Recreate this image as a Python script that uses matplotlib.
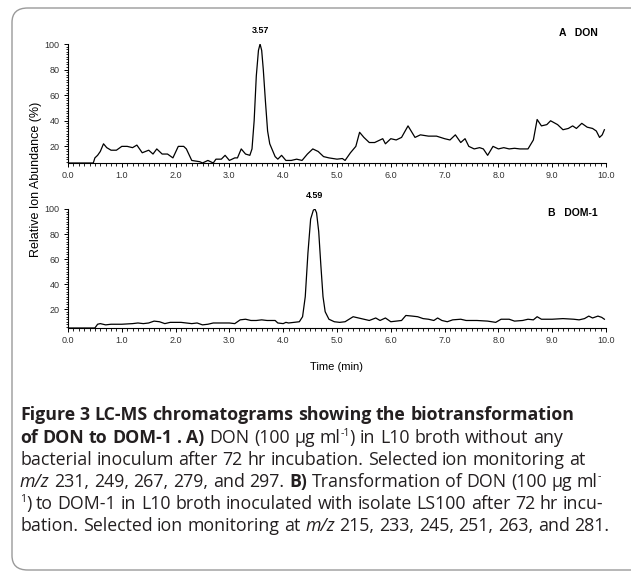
import matplotlib
matplotlib.use("Agg")
import matplotlib.pyplot as plt
from matplotlib.ticker import MultipleLocator, FormatStrFormatter
from matplotlib.patches import FancyBboxPatch

# panel A - DON (time in min, relative abundance in %)
don_t = [0.0, 0.47, 0.5, 0.55, 0.6, 0.66, 0.72, 0.8, 0.9, 1.0, 1.1, 1.2, 1.28, 1.38, 1.5,
         1.58, 1.65, 1.75, 1.85, 1.95, 2.05, 2.15, 2.2, 2.3, 2.45, 2.5, 2.6, 2.7, 2.75,
         2.85, 2.92, 3.0, 3.1, 3.15, 3.22, 3.3, 3.38, 3.42, 3.46, 3.5, 3.54, 3.57, 3.6,
         3.63, 3.67, 3.71, 3.75, 3.8, 3.85, 3.9, 3.97, 4.05, 4.15, 4.25, 4.35, 4.45, 4.55,
         4.65, 4.75, 4.85, 5.0, 5.1, 5.15, 5.25, 5.35, 5.42, 5.5, 5.6, 5.7, 5.8, 5.85,
         5.9, 6.0, 6.1, 6.2, 6.32, 6.45, 6.55, 6.7, 6.85, 7.0, 7.1, 7.2, 7.3, 7.38, 7.45,
         7.55, 7.65, 7.72, 7.8, 7.9, 8.0, 8.1, 8.2, 8.3, 8.4, 8.55, 8.65, 8.72, 8.8, 8.9,
         8.97, 9.1, 9.2, 9.3, 9.38, 9.45, 9.55, 9.65, 9.75, 9.82, 9.88, 9.93, 9.97]
don_y = [7, 7, 11, 13, 16, 22, 19, 17, 17, 20, 20, 19, 21, 15, 17,
         14, 18, 14, 14, 11, 20, 20, 18, 9, 8, 7, 9, 7, 10,
         10, 13, 9, 11, 11, 18, 14, 13, 18, 40, 75, 95, 100, 95,
         80, 55, 32, 22, 17, 12, 10, 13, 9, 9, 10, 9, 14, 18,
         16, 12, 11, 10, 10.5, 9, 15, 20, 31, 27, 23, 23, 25, 26,
         22, 26, 25, 27, 36, 27, 29, 28, 28, 26, 25, 29, 23, 26, 20,
         18, 19, 18, 13, 20, 18, 19, 18, 18.5, 18, 18, 25, 41, 36, 37,
         40, 37, 33, 34, 36, 34, 38, 35, 34, 32, 27, 29, 33]

# panel B - DOM-1
dom_t = [0.0, 0.5, 0.55, 0.6, 0.7, 0.8, 1.0, 1.2, 1.3, 1.4, 1.5, 1.6, 1.7, 1.8, 1.9,
         2.0, 2.1, 2.2, 2.3, 2.4, 2.5, 2.6, 2.7, 2.8, 3.0, 3.1, 3.2, 3.3, 3.4, 3.5,
         3.6, 3.7, 3.85, 3.9, 4.0, 4.05, 4.1, 4.2, 4.3, 4.36, 4.41, 4.46, 4.51, 4.56,
         4.59, 4.62, 4.66, 4.7, 4.74, 4.78, 4.85, 4.95, 5.05, 5.15, 5.3, 5.4, 5.5, 5.6,
         5.72, 5.8, 5.9, 6.0, 6.1, 6.2, 6.28, 6.4, 6.5, 6.6, 6.7, 6.8, 6.87, 6.95, 7.05,
         7.15, 7.3, 7.4, 7.6, 7.8, 7.95, 8.05, 8.2, 8.3, 8.45, 8.55, 8.65, 8.72, 8.8,
         9.0, 9.2, 9.4, 9.5, 9.6, 9.68, 9.75, 9.85, 9.92, 9.97]
dom_y = [5, 5, 8, 8.5, 7.5, 8, 8, 8.5, 9, 8.5, 9, 10.5, 10, 8.5, 9.5,
         9.5, 9.5, 9, 8.5, 9, 7.5, 8, 9, 9, 9, 8.5, 11.5, 12, 11, 11,
         11.5, 11, 11, 9, 8.5, 9.5, 9, 9.5, 10, 14, 30, 65, 92, 99,
         100, 97, 82, 55, 30, 18, 12, 10, 9.5, 10, 14, 13, 12, 11,
         13, 11, 13, 10, 10.5, 11, 15, 14.5, 14, 12.5, 12, 11, 13, 11, 10,
         11.5, 12, 11, 11, 10.5, 9.5, 12, 12, 10.5, 11, 12, 11.5, 14, 12,
         12, 12.5, 12, 11.5, 12.5, 14.5, 13, 14.5, 13.5, 12]

W, H = 631, 577
fig = plt.figure(figsize=(W / 100, H / 100), dpi=100)

# rounded frame round the figure
frame = FancyBboxPatch((12 / W, 7 / H), 640 / W, 562 / H,
                       boxstyle="round,pad=0,rounding_size=0.025",
                       transform=fig.transFigure, fc="none", ec="#9a9a9a", lw=1.0)
fig.patches.append(frame)

chart_font = "Liberation Sans"
x0, x1 = 68, 606


def panel(top, bot, t, y, ymin, peak, peak_t, label):
    ax = fig.add_axes([x0 / W, 1 - bot / H, (x1 - x0) / W, (bot - top) / H])
    ax.plot(t, y, color="black", lw=0.9)
    ax.set_xlim(0, 10)
    ax.set_ylim(ymin, 100)
    for s in ["top", "right"]:
        ax.spines[s].set_visible(False)
    for s in ["left", "bottom"]:
        ax.spines[s].set_linewidth(0.8)
    ax.xaxis.set_major_locator(MultipleLocator(1))
    ax.xaxis.set_minor_locator(MultipleLocator(0.1))
    ax.xaxis.set_major_formatter(FormatStrFormatter("%.1f"))
    ax.yaxis.set_minor_locator(MultipleLocator(2))
    ax.set_yticks([20, 40, 60, 80, 100])
    ax.tick_params(which="major", length=3, width=0.7, labelsize=6.5,
                   labelcolor="#333333", pad=3)
    ax.tick_params(which="minor", length=1.8, width=0.6)
    for lab in ax.get_xticklabels() + ax.get_yticklabels():
        lab.set_fontfamily(chart_font)
    ax.annotate(peak, (peak_t, 100), xytext=(0, 10), textcoords="offset points",
                ha="center", va="center", fontsize=6.5, fontweight="bold",
                family=chart_font)
    ax.text(0.985, label[1], label[0], transform=ax.transAxes, ha="right", va="center",
            fontsize=7.5, fontweight="bold", family=chart_font)
    return ax


axA = panel(44, 163, don_t, don_y, 7, "3.57", 3.57, ("A   DON", 1.09))
axB = panel(209, 328, dom_t, dom_y, 5, "4.59", 4.59, ("B   DOM-1", 0.97))

fig.text(36 / W, 1 - 179 / H, "Relative Ion Abundance (%)", rotation=90,
         ha="center", va="center", fontsize=9, family=chart_font)
fig.text((x0 + x1) / 2 / W, 1 - 367 / H, "Time (min)", ha="center", va="center",
         fontsize=8, family=chart_font)

# caption, placed word by word (bold / italic / superscript runs)
cap_font = ["Open Sans", "DejaVu Sans"]
cap_size = 12.8
cap_left = 20
renderer = fig.canvas.get_renderer()


def style_kw(style):
    kw = dict(fontsize=cap_size, family=cap_font, color="#231f20")
    if "b" in style:
        kw["fontweight"] = "bold"
    if "i" in style:
        kw["fontstyle"] = "italic"
    if "s" in style:
        kw["fontsize"] = cap_size * 0.6
    return kw


def width(txt, style):
    t = fig.text(0, 0, txt, **style_kw(style))
    w = t.get_window_extent(renderer).width
    t.remove()
    return w


space_w = width("n n", "") - width("nn", "")


def line(y, runs):
    words = []
    gap = False
    for txt, style in runs:
        for k, p in enumerate(txt.split(" ")):
            if k > 0:
                gap = True
            if p == "":
                continue
            words.append((p, style, gap))
            gap = False
    x = cap_left
    for w, s, g in words:
        if g:
            x += space_w
        yy = y - 5 if "s" in s else y
        fig.text(x / W, 1 - yy / H, w, ha="left", va="center", **style_kw(s))
        x += width(w, s)


line(415, [("Figure 3 LC-MS chromatograms showing the biotransformation", "b")])
line(438, [("of DON to DOM-1 . A)", "b"), (" DON (100 µg ml", ""), ("-1", "s"),
           (") in L10 broth without any", "")])
line(460, [("bacterial inoculum after 72 hr incubation. Selected ion monitoring at", "")])
line(482, [("m/z", "i"), (" 231, 249, 267, 279, and 297. ", ""), ("B)", "b"),
           (" Transformation of DON (100 µg ml", ""), ("-", "s")])
line(504, [("1", "s"), (") to DOM-1 in L10 broth inoculated with isolate LS100 after 72 hr incu-", "")])
line(526, [("bation. Selected ion monitoring at ", ""), ("m/z", "i"),
           (" 215, 233, 245, 251, 263, and 281.", "")])

fig.savefig("out.png", dpi=100)
